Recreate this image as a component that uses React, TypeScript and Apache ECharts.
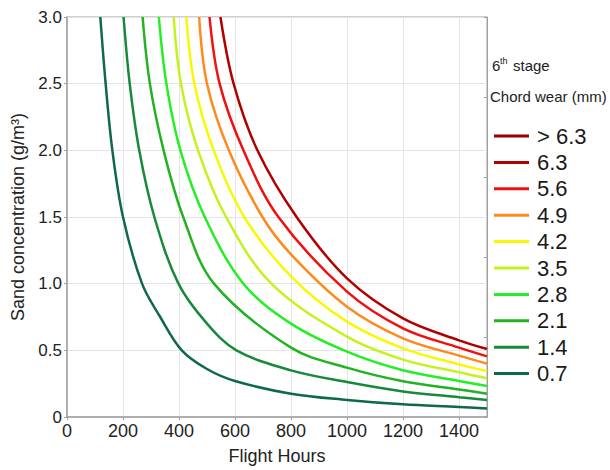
import { useEffect, useRef } from "react";
import * as echarts from "echarts";

// Wear levels shown in the legend (top to bottom) and their line colours
const wearLevels = ["> 6.3", "6.3", "5.6", "4.9", "4.2", "3.5", "2.8", "2.1", "1.4", "0.7"];
const wearColors = [
  "#960000", "#b00000", "#f01010", "#ff8a1c", "#f8f800",
  "#c4f21c", "#24ee24", "#22b222", "#178a3a", "#10684c",
];

// Iso-wear curves: [flight hours, sand concentration g/m³]
const curve63 = [[548, 3.0], [595, 2.5], [680, 2.0], [820, 1.5], [1000, 1.04], [1200, 0.74], [1400, 0.575], [1500, 0.51]];
const curve56 = [[509, 3.0], [545, 2.5], [630, 2.0], [755, 1.5], [1000, 0.94], [1200, 0.665], [1400, 0.52], [1500, 0.455]];
const curve49 = [[472, 3.0], [500, 2.5], [578, 2.0], [698, 1.5], [800, 1.22], [1000, 0.8275], [1200, 0.59], [1400, 0.46], [1500, 0.4]];
const curve42 = [[426, 3.0], [455, 2.5], [524, 2.0], [633, 1.5], [800, 1.055], [1000, 0.715], [1200, 0.515], [1400, 0.395], [1500, 0.345]];
const curve35 = [[381, 3.0], [407, 2.5], [468, 2.0], [568, 1.5], [730, 1.0], [1000, 0.6025], [1200, 0.43], [1400, 0.335], [1500, 0.29]];
const curve28 = [[328, 3.0], [355, 2.5], [405, 2.0], [492, 1.5], [630, 1.0], [800, 0.7], [1000, 0.49], [1200, 0.35], [1400, 0.27], [1500, 0.232]];
const curve21 = [[270, 3.0], [296, 2.5], [345, 2.0], [415, 1.5], [525, 1.0], [800, 0.52], [1000, 0.37], [1200, 0.268], [1400, 0.207], [1500, 0.175]];
const curve14 = [[202, 3.0], [224, 2.5], [258, 2.0], [312, 1.5], [398, 1.0], [500, 0.7], [605, 0.5], [800, 0.35], [1000, 0.262], [1200, 0.192], [1400, 0.148], [1500, 0.128]];
const curve07 = [[119, 3.0], [138, 2.5], [162, 2.0], [200, 1.5], [268, 1.0], [333, 0.75], [410, 0.5], [500, 0.36], [600, 0.27], [800, 0.175], [1000, 0.128], [1200, 0.095], [1400, 0.075], [1500, 0.063]];

const curves: number[][][] = [[], curve63, curve56, curve49, curve42, curve35, curve28, curve21, curve14, curve07];

const FONT = "'Liberation Sans', Arial, sans-serif";

export default function App() {
  const ref = useRef<HTMLDivElement>(null);

  useEffect(() => {
    const chart = echarts.init(ref.current!, null, { renderer: "svg" });

    const series = wearLevels.map((name, i) => ({
      name,
      type: "line",
      data: curves[i],
      showSymbol: false,
      smooth: 0.35,
      color: wearColors[i],
      lineStyle: { width: 2.5, color: wearColors[i] },
      z: 3,
    }));

    chart.setOption({
      animation: false,
      backgroundColor: "#ffffff",
      textStyle: { fontFamily: FONT },
      grid: {
        left: 67,
        right: 123,
        top: 17,
        bottom: 53,
        show: true,
        borderColor: "#a0a0a0",
        borderWidth: 1,
      },
      xAxis: {
        type: "value",
        min: 0,
        max: 1500,
        interval: 200,
        name: "Flight Hours",
        nameLocation: "middle",
        nameGap: 30,
        nameTextStyle: { fontSize: 18, color: "#222", fontFamily: FONT },
        axisLine: { show: true, lineStyle: { color: "#a0a0a0", width: 1.5 } },
        axisTick: { show: true, length: 3, lineStyle: { color: "#a0a0a0" } },
        axisLabel: {
          fontSize: 18,
          color: "#222",
          margin: 5,
          showMaxLabel: false,
          fontFamily: FONT,
          formatter: (v: number) => String(v),
        },
        splitLine: { show: true, lineStyle: { color: "#e4e4e4", width: 1 } },
      },
      yAxis: [
        {
          type: "value",
          min: 0,
          max: 3,
          interval: 0.5,
          name: "Sand concentration (g/m³)",
          nameLocation: "middle",
          nameGap: 35,
          nameTextStyle: { fontSize: 18, color: "#222", fontFamily: FONT },
          axisLine: { show: true, lineStyle: { color: "#a0a0a0", width: 1.5 } },
          axisTick: { show: true, length: 3, lineStyle: { color: "#a0a0a0" } },
          axisLabel: {
            fontSize: 17,
            color: "#222",
            margin: 5,
            fontFamily: FONT,
            formatter: (v: number) => (v === 0 ? "0" : v.toFixed(1)),
          },
          splitLine: { show: true, lineStyle: { color: "#e4e4e4", width: 1 } },
        },
        {
          type: "value",
          position: "right",
          min: 0,
          max: 3,
          interval: 0.6,
          axisLine: { show: true, lineStyle: { color: "#a0a0a0", width: 1 } },
          axisTick: { show: true, inside: true, length: 3, lineStyle: { color: "#a0a0a0" } },
          axisLabel: { show: false },
          splitLine: { show: false },
        },
      ],
      legend: {
        orient: "vertical",
        left: 494,
        top: 125,
        padding: 0,
        itemWidth: 35,
        itemHeight: 3,
        itemGap: 4.4,
        icon: "rect",
        data: wearLevels,
        textStyle: { fontSize: 22, lineHeight: 22, color: "#1a1a1a", fontFamily: FONT, padding: [0, 0, 0, 3] },
      },
      graphic: [
        { type: "text", left: 492, top: 58, style: { text: "6", fontSize: 15, fill: "#222", fontFamily: FONT } },
        { type: "text", left: 500, top: 56, style: { text: "th", fontSize: 9, fill: "#222", fontFamily: FONT } },
        { type: "text", left: 513, top: 58, style: { text: "stage", fontSize: 15, fill: "#222", fontFamily: FONT } },
        { type: "text", left: 490, top: 89, style: { text: "Chord wear (mm)", fontSize: 15, fill: "#222", fontFamily: FONT } },
      ],
      series,
    });

    return () => chart.dispose();
  }, []);

  return <div ref={ref} style={{ position: "fixed", left: 0, top: 0, width: 610, height: 470 }} />;
}
